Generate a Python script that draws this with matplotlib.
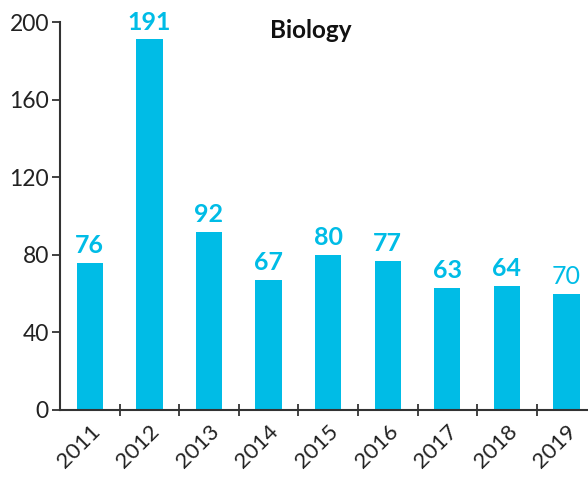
import matplotlib
matplotlib.use("Agg")
import matplotlib.pyplot as plt
import numpy as np

years = ["2011", "2012", "2013", "2014", "2015", "2016", "2017", "2018", "2019"]
bar_values = [76, 191, 92, 67, 80, 77, 63, 64, 60]
bar_labels = ["76", "191", "92", "67", "80", "77", "63", "64", "70"]
label_weights = ["bold"] * 8 + ["normal"]
yticks = [0, 40, 80, 120, 160, 200]
title = "Biology"

plt.rcParams['font.family'] = ['Lato', 'DejaVu Sans']
color = "#00BCE6"
dark = "#222222"

fig = plt.figure(figsize=(5.88, 4.79), dpi=100)
ax = fig.add_axes([60/588, 69/479, 1 - 60/588, (410-22)/479])
x = np.arange(len(years))
bars = ax.bar(x, bar_values, width=0.44, color=color, zorder=2)
for xi, v, lab, w in zip(x, bar_values, bar_labels, label_weights):
    ax.text(xi, v + 3, lab, ha="center", va="bottom", color=color,
            fontsize=18, fontweight=w)

ax.set_xlim(-0.5, 8.36)
ax.set_ylim(0, 200)
ax.set_yticks(yticks)
ax.set_yticklabels([str(t) for t in yticks], fontsize=16.5, color=dark)

ax.set_xticks(x)
ax.set_xticklabels(years, rotation=45, ha="right", va="top", fontsize=16,
                   color=dark, rotation_mode="anchor")
ax.set_xticks(x[:-1] + 0.5, minor=True)
ax.tick_params(axis="x", which="major", length=0, pad=8)
ax.tick_params(axis="x", which="minor", direction="inout", length=8,
               width=1.3, color="#333333")
ax.tick_params(axis="y", which="major", direction="out", length=6,
               width=1.3, color="#333333", pad=2)

for s in ["top", "right"]:
    ax.spines[s].set_visible(False)
for s in ["left", "bottom"]:
    ax.spines[s].set_linewidth(1.5)
    ax.spines[s].set_color("#333333")

fig.text(311/588, 1 - 30/479, title, ha="center", va="center",
         fontsize=17.5, fontweight="bold", color="#111111")

fig.savefig("out.png", dpi=100)
